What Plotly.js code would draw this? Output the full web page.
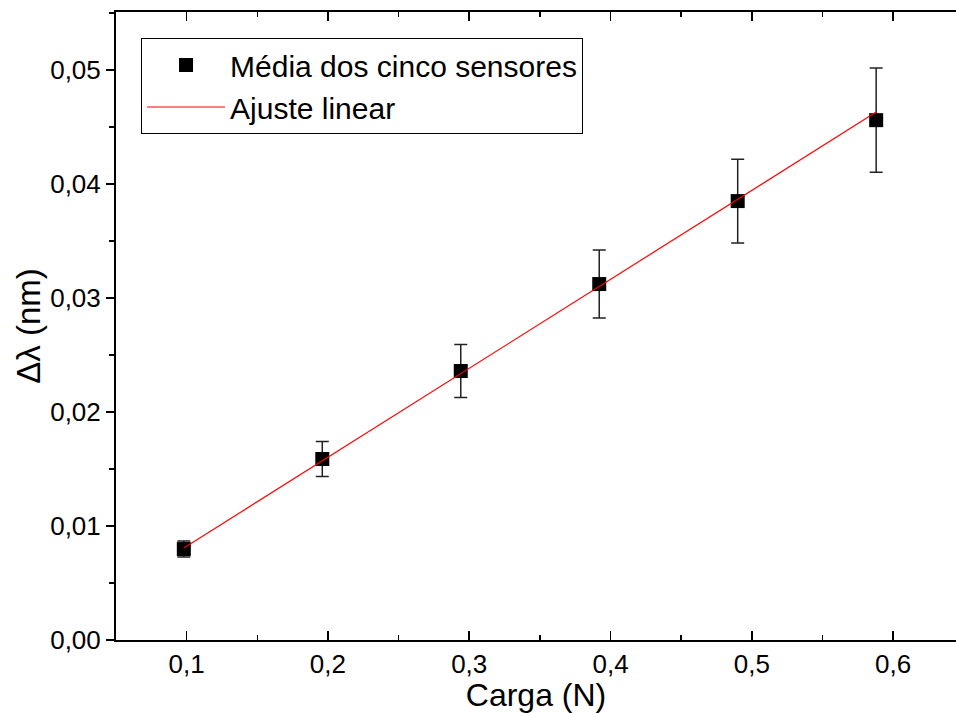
<!DOCTYPE html>
<html>
<head>
<meta charset="utf-8">
<script src="https://cdn.plot.ly/plotly-3.0.1.min.js"></script>
<style>html,body{margin:0;padding:0;background:#fff;}#chart{width:956px;height:713px;}</style>
</head>
<body>
<div id="chart"></div>
<script>
// Data
const cargaN = [0.098, 0.196, 0.294, 0.392, 0.490, 0.588];
const deltaLambda = [0.00798, 0.01588, 0.02360, 0.03123, 0.03851, 0.04561];
const errDeltaLambda = [0.00070, 0.00154, 0.00232, 0.00298, 0.00368, 0.00458];
const fitX = [0.098, 0.588];
const fitY = [0.00807, 0.04632];
const seriesNames = ["Média dos cinco sensores", "Ajuste linear"];

const FONT = "'Liberation Sans', Arial, sans-serif";

const traces = [
  {
    x: cargaN, y: deltaLambda, type: 'scatter', mode: 'markers',
    name: seriesNames[0],
    marker: {symbol: 'square', size: 14, color: '#000'},
    error_y: {type: 'data', array: errDeltaLambda, visible: true, color: '#222', thickness: 1.5, width: 6.5}
  },
  {
    x: fitX, y: fitY, type: 'scatter', mode: 'lines',
    name: seriesNames[1],
    line: {color: '#ff0000', width: 1.2}
  }
];

const layout = {
  width: 956, height: 713,
  paper_bgcolor: '#fff', plot_bgcolor: '#fff',
  separators: ', ',
  margin: {l: 116, r: 0, t: 12, b: 73, pad: 0},
  font: {family: FONT, color: '#000'},
  showlegend: true,
  legend: {
    x: 0.0298, y: 0.9586, xanchor: 'left', yanchor: 'top',
    bordercolor: '#000', borderwidth: 1, bgcolor: '#fff',
    font: {family: FONT, size: 30, color: '#000'},
    tracegroupgap: 0, itemwidth: 78
  },
  xaxis: {
    range: [0.05, 0.6445], autorange: false,
    tickmode: 'linear', tick0: 0.1, dtick: 0.1, tickformat: '.1f',
    ticks: 'inside', ticklen: 9, tickwidth: 1.5, tickcolor: '#000',
    minor: {dtick: 0.05, tick0: 0.05, ticks: 'inside', ticklen: 5, tickwidth: 1.5, tickcolor: '#000'},
    showline: true, linecolor: '#000', linewidth: 2, mirror: 'ticks',
    showgrid: false, zeroline: false,
    tickfont: {family: FONT, size: 26, color: '#000'},
    title: {text: 'Carga (N)', font: {family: FONT, size: 32, color: '#000'}, standoff: 6},
    automargin: false
  },
  yaxis: {
    range: [0, 0.0551], autorange: false,
    tickmode: 'linear', tick0: 0, dtick: 0.01, tickformat: '.2f',
    ticks: 'outside', ticklen: 8, tickwidth: 1.5, tickcolor: '#000',
    minor: {dtick: 0.005, ticks: 'outside', ticklen: 5, tickwidth: 1.5, tickcolor: '#000'},
    showline: true, linecolor: '#000', linewidth: 2, mirror: false,
    showgrid: false, zeroline: false,
    tickfont: {family: FONT, size: 26, color: '#000'},
    title: {text: 'Δλ (nm)', font: {family: FONT, size: 33, color: '#000'}, standoff: 0},
    automargin: false
  }
};

Plotly.newPlot('chart', traces, layout, {displayModeBar: false, staticPlot: true});
</script>
</body>
</html>
